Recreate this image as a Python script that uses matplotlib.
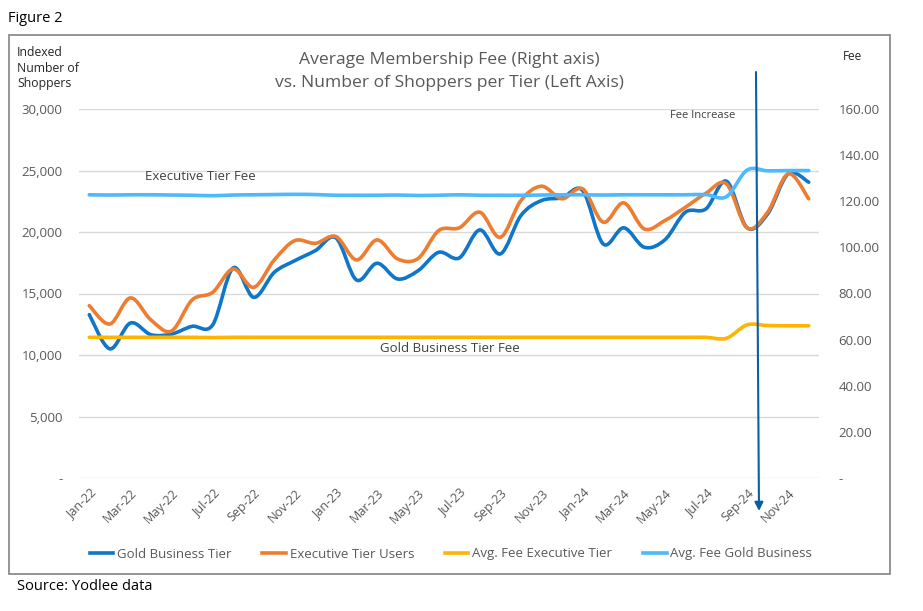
import matplotlib
matplotlib.use("Agg")
import matplotlib.pyplot as plt
from matplotlib.path import Path
from matplotlib.patches import PathPatch, Rectangle, FancyArrowPatch
from matplotlib.lines import Line2D
from matplotlib.ticker import FuncFormatter, FixedLocator

plt.rcParams['font.family'] = ['Open Sans', 'DejaVu Sans']

months = ["Jan-22", "Feb-22", "Mar-22", "Apr-22", "May-22", "Jun-22", "Jul-22", "Aug-22", "Sep-22",
          "Oct-22", "Nov-22", "Dec-22", "Jan-23", "Feb-23", "Mar-23", "Apr-23", "May-23", "Jun-23",
          "Jul-23", "Aug-23", "Sep-23", "Oct-23", "Nov-23", "Dec-23", "Jan-24", "Feb-24", "Mar-24",
          "Apr-24", "May-24", "Jun-24", "Jul-24", "Aug-24", "Sep-24", "Oct-24", "Nov-24", "Dec-24"]

gold_users = [13280, 10500, 12600, 11650, 11700, 12330, 12440, 17080, 14690,
              16720, 17670, 18490, 19520, 16100, 17460, 16180, 16860, 18350,
              17890, 20170, 18220, 21340, 22560, 22780, 23370, 19030, 20340,
              18760, 19360, 21610, 21880, 24130, 20350, 21470, 24730, 24050]

exec_users = [14010, 12520, 14640, 12850, 11950, 14470, 15090, 17000, 15500,
              17730, 19300, 19080, 19630, 17730, 19360, 17810, 17850, 20120,
              20340, 21610, 19570, 22560, 23720, 22700, 23510, 20800, 22370,
              20250, 20930, 22010, 23150, 23910, 20340, 21610, 24730, 22700]

fee_exec = [61.0, 61.0, 61.0, 61.0, 61.0, 61.0, 60.9, 61.0, 61.0,
            61.0, 61.0, 61.0, 61.0, 61.0, 61.0, 61.0, 61.0, 61.0,
            61.0, 61.0, 61.0, 61.0, 61.0, 61.0, 61.0, 61.0, 61.0,
            61.0, 61.0, 61.0, 61.0, 60.6, 66.4, 66.1, 66.0, 66.0]

fee_gold = [122.8, 122.7, 122.8, 122.8, 122.7, 122.6, 122.4, 122.7, 122.8,
            122.9, 123.0, 122.9, 122.6, 122.6, 122.6, 122.7, 122.5, 122.6,
            122.8, 122.6, 122.6, 122.6, 122.7, 122.8, 122.8, 122.7, 122.8,
            122.8, 122.8, 122.8, 122.9, 122.0, 133.5, 133.2, 133.3, 133.3]

legend_labels = ["Gold Business Tier", "Executive Tier Users", "Avg. Fee Executive Tier", "Avg. Fee Gold Business"]
colors = ["#0F76C8", "#ED7D31", "#FFB400", "#4DB9FF"]

TXT = "#595959"


def smooth_path(xs, ys):
    pts = list(zip(xs, ys))
    n = len(pts)
    verts = [pts[0]]
    codes = [Path.MOVETO]
    for i in range(n - 1):
        p0 = pts[i - 1] if i > 0 else pts[i]
        p1 = pts[i]
        p2 = pts[i + 1]
        p3 = pts[i + 2] if i + 2 < n else pts[i + 1]
        c1 = (p1[0] + (p2[0] - p0[0]) / 6.0, p1[1] + (p2[1] - p0[1]) / 6.0)
        c2 = (p2[0] - (p3[0] - p1[0]) / 6.0, p2[1] - (p3[1] - p1[1]) / 6.0)
        verts += [c1, c2, p2]
        codes += [Path.CURVE4, Path.CURVE4, Path.CURVE4]
    return Path(verts, codes)


W, H = 923, 611
fig = plt.figure(figsize=(W / 100, H / 100), dpi=100)

# outer border
fig.add_artist(Rectangle((9 / W, 1 - 574 / H), (890 - 9) / W, (574 - 35) / H,
                         transform=fig.transFigure, fill=False, edgecolor="#8C8C8C", lw=1.3))

ax = fig.add_axes([79 / W, 1 - 478 / H, (819 - 79) / W, (478 - 109) / H])
ax2 = ax.twinx()

x = list(range(len(months)))
ax.set_xlim(-0.5, len(months) - 0.5)
ax.set_ylim(0, 30000)
ax2.set_ylim(0, 160)

for a in (ax, ax2):
    for s in a.spines.values():
        s.set_visible(False)
    a.tick_params(length=0)

ax.yaxis.set_major_locator(FixedLocator([0, 5000, 10000, 15000, 20000, 25000, 30000]))
ax.yaxis.set_major_formatter(FuncFormatter(lambda v, p: "-" if v == 0 else f"{int(v):,}"))
ax.tick_params(axis="y", labelsize=9.5, labelcolor=TXT, pad=12)
ax.grid(axis="y", color="#D9D9D9", lw=1)
ax.set_axisbelow(True)

ax2.yaxis.set_major_locator(FixedLocator([0, 20, 40, 60, 80, 100, 120, 140, 160]))
ax2.yaxis.set_major_formatter(FuncFormatter(lambda v, p: "-" if v == 0 else f"{v:.2f}"))
ax2.tick_params(axis="y", labelsize=9.5, labelcolor=TXT, pad=14)

ax.set_xticks(x[::2])
ax.set_xticklabels(months[::2], rotation=45, ha="right", rotation_mode="anchor",
                   fontsize=9, color=TXT)
ax.tick_params(axis="x", pad=6)

ax.add_patch(PathPatch(smooth_path(x, gold_users), fill=False, edgecolor=colors[0], lw=2.6, capstyle="round", zorder=3))
ax.add_patch(PathPatch(smooth_path(x, exec_users), fill=False, edgecolor=colors[1], lw=2.6, capstyle="round", zorder=3))
ax2.add_patch(PathPatch(smooth_path(x, fee_exec), fill=False, edgecolor=colors[2], lw=2.6, capstyle="round", zorder=3))
ax2.add_patch(PathPatch(smooth_path(x, fee_gold), fill=False, edgecolor=colors[3], lw=2.6, capstyle="round", zorder=3))

# title
fig.text(449 / W, 1 - 60 / H, "Average Membership Fee (Right axis)", ha="center", va="center",
         fontsize=12.6, color=TXT)
fig.text(449 / W, 1 - 83 / H, "vs. Number of Shoppers per Tier (Left Axis)", ha="center", va="center",
         fontsize=12.6, color=TXT)

fig.text(8 / W, 1 - 18 / H, "Figure 2", ha="left", va="center", fontsize=10.5, color="#000000")
fig.text(17 / W, 1 - 586 / H, "Source: Yodlee data", ha="left", va="center", fontsize=10.5, color="#000000")
fig.text(17 / W, 1 - 52 / H, "Indexed", ha="left", va="center", fontsize=8.8, color="#262626")
fig.text(17 / W, 1 - 68 / H, "Number of", ha="left", va="center", fontsize=8.8, color="#262626")
fig.text(17 / W, 1 - 84 / H, "Shoppers", ha="left", va="center", fontsize=8.8, color="#262626")
fig.text(853 / W, 1 - 57 / H, "Fee", ha="center", va="center", fontsize=8.5, color="#262626")

# annotations
fig.text(200 / W, 1 - 176 / H, "Executive Tier Fee", ha="center", va="center", fontsize=9.5, color="#404040")
fig.text(450 / W, 1 - 349 / H, "Gold Business Tier Fee", ha="center", va="center", fontsize=9.5, color="#404040")
fig.text(703 / W, 1 - 116 / H, "Fee Increase", ha="center", va="center", fontsize=8, color="#404040")

fig.add_artist(FancyArrowPatch((756 / W, 1 - 72 / H), (759 / W, 1 - 511 / H), transform=fig.transFigure,
                               arrowstyle="-|>,head_length=5,head_width=2.5", color="#0B5EA3", lw=1.5,
                               shrinkA=0, shrinkB=0, zorder=5))

handles = [Line2D([], [], color=c, lw=2.6) for c in colors]
fig.legend(handles, legend_labels, loc="center", bbox_to_anchor=(451 / W, 1 - 554 / H), ncol=4,
           frameon=False, fontsize=9.5, labelcolor=TXT, handlelength=1.8, handletextpad=0.3,
           columnspacing=2.3)

fig.savefig("out.png", dpi=100)
